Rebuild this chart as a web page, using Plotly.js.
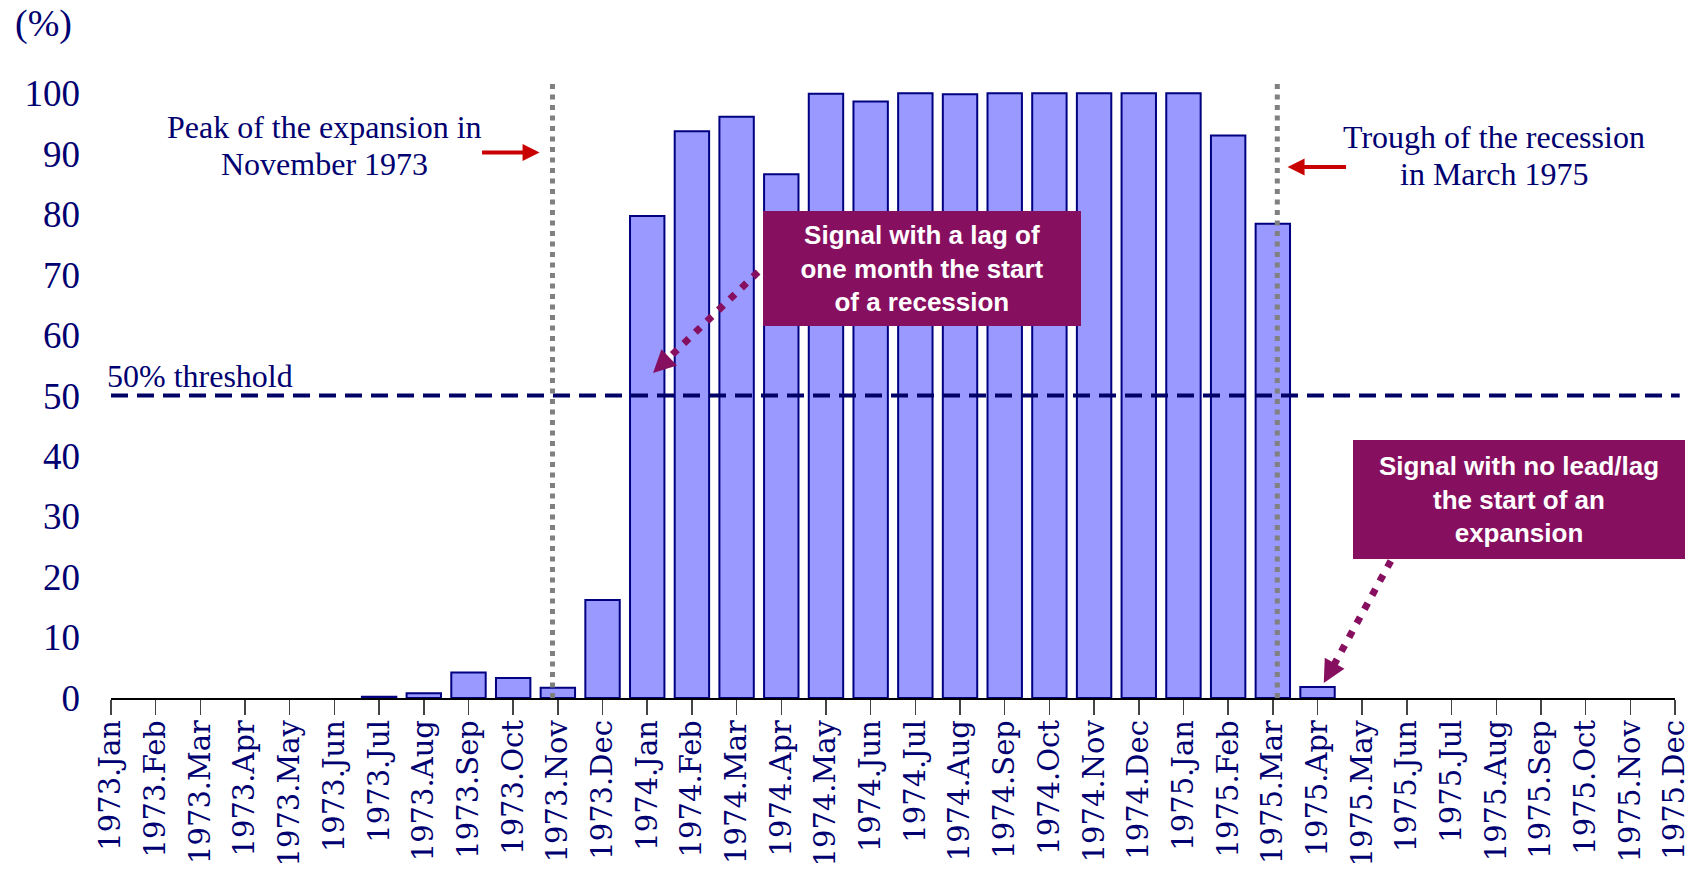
<!DOCTYPE html>
<html>
<head>
<meta charset="utf-8">
<script src="https://cdn.plot.ly/plotly-3.0.1.min.js"></script>
<style>
  html, body { margin: 0; padding: 0; background: #ffffff; }
  #chart { width: 1705px; height: 869px; }
</style>
</head>
<body>
<div id="chart"></div>
<script>
// Monthly categories, Jan 1973 to Dec 1975
const months = [
  '1973.Jan', '1973.Feb', '1973.Mar', '1973.Apr', '1973.May', '1973.Jun',
  '1973.Jul', '1973.Aug', '1973.Sep', '1973.Oct', '1973.Nov', '1973.Dec',
  '1974.Jan', '1974.Feb', '1974.Mar', '1974.Apr', '1974.May', '1974.Jun',
  '1974.Jul', '1974.Aug', '1974.Sep', '1974.Oct', '1974.Nov', '1974.Dec',
  '1975.Jan', '1975.Feb', '1975.Mar', '1975.Apr', '1975.May', '1975.Jun',
  '1975.Jul', '1975.Aug', '1975.Sep', '1975.Oct', '1975.Nov', '1975.Dec'
];

// Recession probability (%) for each month
const probability = [
  0, 0, 0, 0, 0, 0,
  0.2, 0.8, 4.2, 3.3, 1.7, 16.2,
  79.7, 93.7, 96.1, 86.6, 99.9, 98.6,
  100, 99.8, 100, 100, 100, 100,
  100, 93.0, 78.4, 1.8, 0, 0,
  0, 0, 0, 0, 0, 0
];

const yTicks = [0, 10, 20, 30, 40, 50, 60, 70, 80, 90, 100];
const threshold = 50;

// Business-cycle turning points (position on the month axis)
const peakPos = 9.88;    // November 1973
const troughPos = 26.1;  // March 1975

// Pointer arrows: tail, end of the dotted shaft, and arrow tip
const pointerA = { tail: [14.48, 70.43], shaftEnd: [12.42, 55.78], tip: [12.13, 53.73], ax: 13, ay: -12.5 };
const pointerB = { tail: [28.64, 22.65], shaftEnd: [27.34, 5.09], tip: [27.14, 2.48], ax: 8.7, ay: -15.8 };

const NAVY = '#000070';
const PURPLE = '#870F5F';
const RED = '#C80000';
const SERIF = 'Liberation Serif, Times New Roman, serif';
const WIDE_SERIF = 'DejaVu Serif, serif';
const SANS = 'Liberation Sans, Arial, sans-serif';

const idx = months.map((_, i) => i);

const bars = {
  type: 'bar',
  x: idx,
  y: probability,
  width: 0.77,
  marker: {
    color: '#9999FF',
    line: { color: '#000080', width: probability.map(v => (v > 0 ? 2 : 0)) }
  },
  hoverinfo: 'skip'
};

// Dotted shafts of the pointer arrows
function shaft(p) {
  return {
    type: 'scatter',
    mode: 'lines',
    x: [p.tail[0], p.shaftEnd[0]],
    y: [p.tail[1], p.shaftEnd[1]],
    line: { color: PURPLE, width: 7, dash: '7px,9px' },
    hoverinfo: 'skip',
    showlegend: false
  };
}

// Arrow heads of the pointer arrows
function head(p) {
  return {
    x: p.tip[0], y: p.tip[1], ax: p.ax, ay: p.ay, text: '', showarrow: true,
    arrowhead: 2, arrowwidth: 4.5, arrowsize: 1, arrowcolor: PURPLE
  };
}

const layout = {
  width: 1705,
  height: 869,
  margin: { l: 111, r: 30, t: 75, b: 171 },
  paper_bgcolor: '#ffffff',
  plot_bgcolor: '#ffffff',
  showlegend: false,
  hovermode: false,
  xaxis: {
    type: 'linear',
    range: [0, 35],
    tickmode: 'array',
    tickvals: idx,
    ticktext: months,
    tickangle: -90,
    ticks: 'outside',
    ticklen: 15,
    tickwidth: 1.5,
    tickcolor: '#444444',
    ticklabelstandoff: -6,
    showline: true,
    linecolor: '#000000',
    linewidth: 1.5,
    showgrid: false,
    zeroline: false,
    tickfont: { family: WIDE_SERIF, size: 29, color: NAVY }
  },
  yaxis: {
    range: [0, 103],
    tickmode: 'array',
    tickvals: yTicks,
    ticktext: yTicks.map(String),
    ticks: '',
    ticklabelstandoff: 30,
    showline: false,
    showgrid: false,
    zeroline: false,
    tickfont: { family: SERIF, size: 37, color: NAVY }
  },
  shapes: [
    { type: 'line', xref: 'paper', yref: 'y', x0: 0, x1: 1.003, y0: threshold, y1: threshold,
      line: { color: '#000066', width: 4, dash: '17px,9px' } },
    { type: 'line', xref: 'x', yref: 'y', x0: peakPos, x1: peakPos, y0: 0, y1: 102.3,
      line: { color: '#808080', width: 5, dash: '5px,5.5px' } },
    { type: 'line', xref: 'x', yref: 'y', x0: troughPos, x1: troughPos, y0: 0, y1: 102.3,
      line: { color: '#808080', width: 5, dash: '5px,5.5px' } }
  ],
  annotations: [
    { xref: 'paper', yref: 'paper', x: -0.0625, y: 1.082, xanchor: 'left', yanchor: 'middle',
      text: '(%)', showarrow: false, font: { family: SERIF, size: 38, color: NAVY } },
    { xref: 'paper', x: -0.004, y: 53.3, xanchor: 'left', yanchor: 'middle', text: '50% threshold',
      showarrow: false, font: { family: SERIF, size: 32, color: NAVY } },
    { x: 4.78, y: 94.4, text: 'Peak of the expansion in', showarrow: false,
      font: { family: SERIF, size: 32, color: NAVY } },
    { x: 4.78, y: 88.3, text: 'November 1973', showarrow: false,
      font: { family: SERIF, size: 32, color: NAVY } },
    { x: 30.94, y: 92.8, text: 'Trough of the recession', showarrow: false,
      font: { family: SERIF, size: 32, color: NAVY } },
    { x: 30.94, y: 86.7, text: 'in March 1975', showarrow: false,
      font: { family: SERIF, size: 32, color: NAVY } },
    // Red arrows pointing at the turning points
    { x: 9.59, y: 90.2, ax: -59, ay: 0, text: '', showarrow: true,
      arrowhead: 2, arrowwidth: 4, arrowsize: 0.85, arrowcolor: RED },
    { x: 26.33, y: 87.8, ax: 60, ay: 0, text: '', showarrow: true,
      arrowhead: 2, arrowwidth: 4, arrowsize: 0.85, arrowcolor: RED },
    head(pointerA),
    head(pointerB),
    // Signal boxes
    { x: 18.16, y: 71.05, width: 318, height: 115, borderpad: 0, borderwidth: 0,
      bgcolor: PURPLE, showarrow: false, align: 'center',
      text: 'Signal with a lag of<br>one month the start<br>of a recession',
      font: { family: SANS, size: 26, color: '#ffffff', weight: 'bold' } },
    { x: 31.52, y: 32.8, width: 332, height: 119, borderpad: 0, borderwidth: 0,
      bgcolor: PURPLE, showarrow: false, align: 'center',
      text: 'Signal with no lead/lag<br>the start of an<br>expansion',
      font: { family: SANS, size: 26, color: '#ffffff', weight: 'bold' } }
  ]
};

Plotly.newPlot('chart', [bars, shaft(pointerA), shaft(pointerB)], layout,
  { displayModeBar: false, staticPlot: true });
</script>
</body>
</html>
